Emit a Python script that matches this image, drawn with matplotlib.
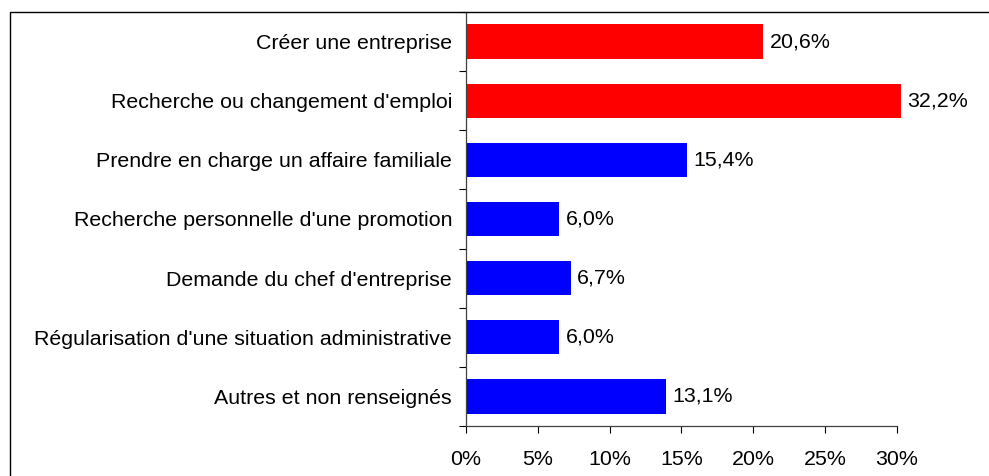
import matplotlib
matplotlib.use("Agg")
import matplotlib.pyplot as plt
from matplotlib.patches import Rectangle

plt.rcParams['font.family'] = ['Liberation Sans', 'DejaVu Sans']

# Data
categories = ["Créer une entreprise",
              "Recherche ou changement d'emploi",
              "Prendre en charge un affaire familiale",
              "Recherche personnelle d'une promotion",
              "Demande du chef d'entreprise",
              "Régularisation d'une situation administrative",
              "Autres et non renseignés"]
# bar lengths as measured against the axis (the printed labels differ slightly)
bar_values = [20.7, 32.2, 15.4, 6.5, 7.3, 6.5, 13.9]
value_labels = ["20,6%", "32,2%", "15,4%", "6,0%", "6,7%", "6,0%", "13,1%"]
colors = ["#FF0000", "#FF0000", "#0000FF", "#0000FF", "#0000FF", "#0000FF", "#0000FF"]
xticks = [0, 5, 10, 15, 20, 25, 30]

W, H = 989, 476
FS = 15.4
XMAX = 30.28
fig = plt.figure(figsize=(W / 100, H / 100), dpi=100)
ax = fig.add_axes([466 / W, 1 - 426 / H, (900.7 - 466) / W, (426 - 12) / H])

ypos = list(range(len(categories)))
ax.barh(ypos, bar_values, height=0.58, color=colors)
ax.set_xlim(0, XMAX)
ax.set_ylim(len(categories) - 0.5, -0.5)

for y, v, lab in zip(ypos, bar_values, value_labels):
    ax.text(min(v, XMAX) + 0.45, y, lab,
            va="center", ha="left", fontsize=FS, clip_on=False)

ax.set_yticks(ypos)
ax.set_yticklabels(categories, fontsize=FS)
ax.set_yticks([y - 0.5 for y in range(len(categories) + 1)], minor=True)
ax.tick_params(axis="y", which="major", length=0, pad=10)
ax.tick_params(axis="y", which="minor", length=5, direction="out", width=0.8)
ax.set_xticks(xticks)
ax.set_xticklabels([f"{t}%" for t in xticks], fontsize=FS)
ax.tick_params(axis="x", length=5, direction="out", width=0.8, pad=12)

for s in ["top", "right"]:
    ax.spines[s].set_visible(False)
ax.spines["bottom"].set_bounds(0, 30)
for s in ["left", "bottom"]:
    ax.spines[s].set_color("#404040")
    ax.spines[s].set_linewidth(0.9)

# outer chart frame, running off the right and bottom edges
fig.patches.append(Rectangle((10 / W, -0.1), 1.2, 1 - 12 / H + 0.1,
                             transform=fig.transFigure, fill=False,
                             edgecolor="black", linewidth=1.0))

fig.savefig("out.png", dpi=100)
